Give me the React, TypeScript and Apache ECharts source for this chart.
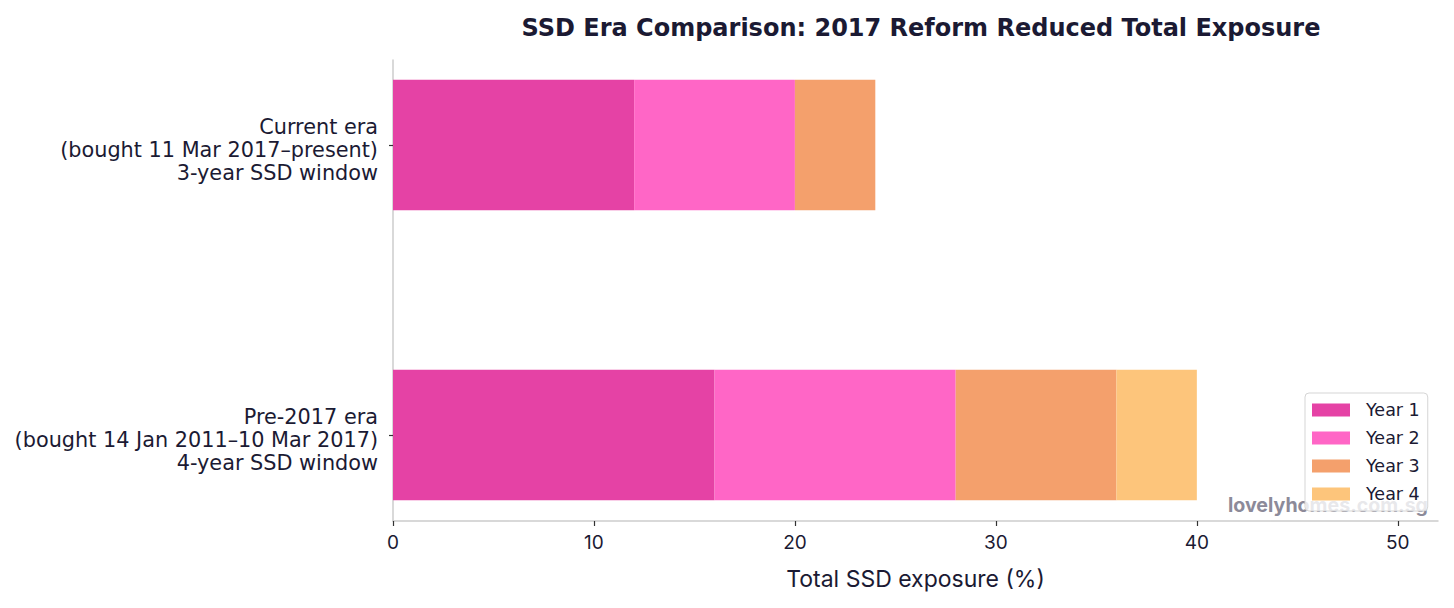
import React, { useEffect, useRef } from "react";
import * as echarts from "echarts";

const categories = [
  "Pre-2017 era\n(bought 14 Jan 2011–10 Mar 2017)\n4-year SSD window",
  "Current era\n(bought 11 Mar 2017–present)\n3-year SSD window",
];
const seriesNames = ["Year 1", "Year 2", "Year 3", "Year 4"];
const year1 = [16, 12];
const year2 = [12, 8];
const year3 = [8, 4];
const year4 = [4, 0];
const colors = ["#E542A5", "#FF66C6", "#F4A06C", "#FDC57B"];
const xTicks = [0, 10, 20, 30, 40, 50];

const TEXT = "#1B1A33";
const AXIS = "#CCCCCC";

export default function App() {
  const ref = useRef<HTMLDivElement>(null);
  useEffect(() => {
    const chart = echarts.init(ref.current!, null, { renderer: "svg" });
    const values = [year1, year2, year3, year4];
    chart.setOption({
      animation: false,
      backgroundColor: "#ffffff",
      title: {
        text: "SSD Era Comparison: 2017 Reform Reduced Total Exposure",
        left: 916,
        textAlign: "center",
        top: 11,
        textStyle: { fontFamily: "DejaVu Sans", fontWeight: "bold", fontSize: 24, color: TEXT },
      },
      grid: [
        { left: 393, right: 16, top: 60, bottom: 87 },
        { left: 393, right: 16, top: 0, height: 580 },
      ],
      xAxis: [
        {
          gridIndex: 0,
          type: "value",
          min: 0,
          max: 52,
          axisLine: { show: true, lineStyle: { color: AXIS, width: 1.5 } },
          axisTick: { show: true, length: 5, customValues: xTicks, lineStyle: { color: "#333", width: 1.2 } },
          axisLabel: {
            color: TEXT,
            fontFamily: "Inter",
            fontSize: 19,
            margin: 12,
            customValues: xTicks,
          },
          splitLine: { show: false },
          name: "Total SSD exposure (%)",
          nameLocation: "middle",
          nameGap: 46,
          nameTextStyle: { color: TEXT, fontFamily: "Inter", fontSize: 23 },
        },
        {
          gridIndex: 1,
          type: "value",
          min: 0,
          max: 52,
          show: false,
        },
      ],
      yAxis: [
        {
          gridIndex: 0,
          type: "value",
          min: 0,
          max: 1,
          axisLine: { show: true, lineStyle: { color: AXIS, width: 1.5 } },
          axisTick: { show: false },
          axisLabel: { show: false },
          splitLine: { show: false },
        },
        {
          gridIndex: 1,
          type: "category",
          data: categories,
          axisLine: { show: false },
          axisTick: { show: true, alignWithLabel: true, length: 4, lineStyle: { color: "#333", width: 1.2 } },
          axisLabel: {
            color: TEXT,
            fontFamily: "DejaVu Sans",
            fontSize: 20.8,
            lineHeight: 23,
            align: "right",
            margin: 15,
            formatter: (v: string) =>
              "{s| }\n" + v.split("\n").map((l) => "{t|" + l + "}").join("\n"),
            rich: {
              s: { fontSize: 1, lineHeight: 9 },
              t: { fontFamily: "DejaVu Sans", fontSize: 20.8, lineHeight: 23, color: TEXT },
            },
          },
          splitLine: { show: false },
        },
      ],
      legend: {
        orient: "vertical",
        left: 1305,
        top: 393,
        itemWidth: 38,
        itemHeight: 13,
        itemGap: 10,
        padding: [8, 8, 8, 7],
        borderColor: "#D5D5D5",
        borderWidth: 1,
        borderRadius: 4,
        backgroundColor: "rgba(255,255,255,0.8)",
        z: 10,
        icon: "rect",
        data: seriesNames,
        textStyle: { color: TEXT, fontFamily: "DejaVu Sans", fontSize: 17.5, padding: [0, 0, 0, 11] },
      },
      graphic: [
        {
          type: "text",
          right: 26,
          top: 495,
          z: 1,
          style: {
            text: "lovelyhomes.com.sg",
            fill: "#8C8A99",
            font: "bold 19.6px Inter",
          },
        },
      ],
      series: seriesNames.map((name, i) => ({
        name,
        type: "bar",
        stack: "total",
        xAxisIndex: 1,
        yAxisIndex: 1,
        barWidth: "45%",
        itemStyle: { color: colors[i] },
        emphasis: { disabled: true },
        data: values[i],
      })),
    });
    return () => chart.dispose();
  }, []);
  return <div ref={ref} style={{ width: 1454, height: 608, margin: -8 }} />;
}
